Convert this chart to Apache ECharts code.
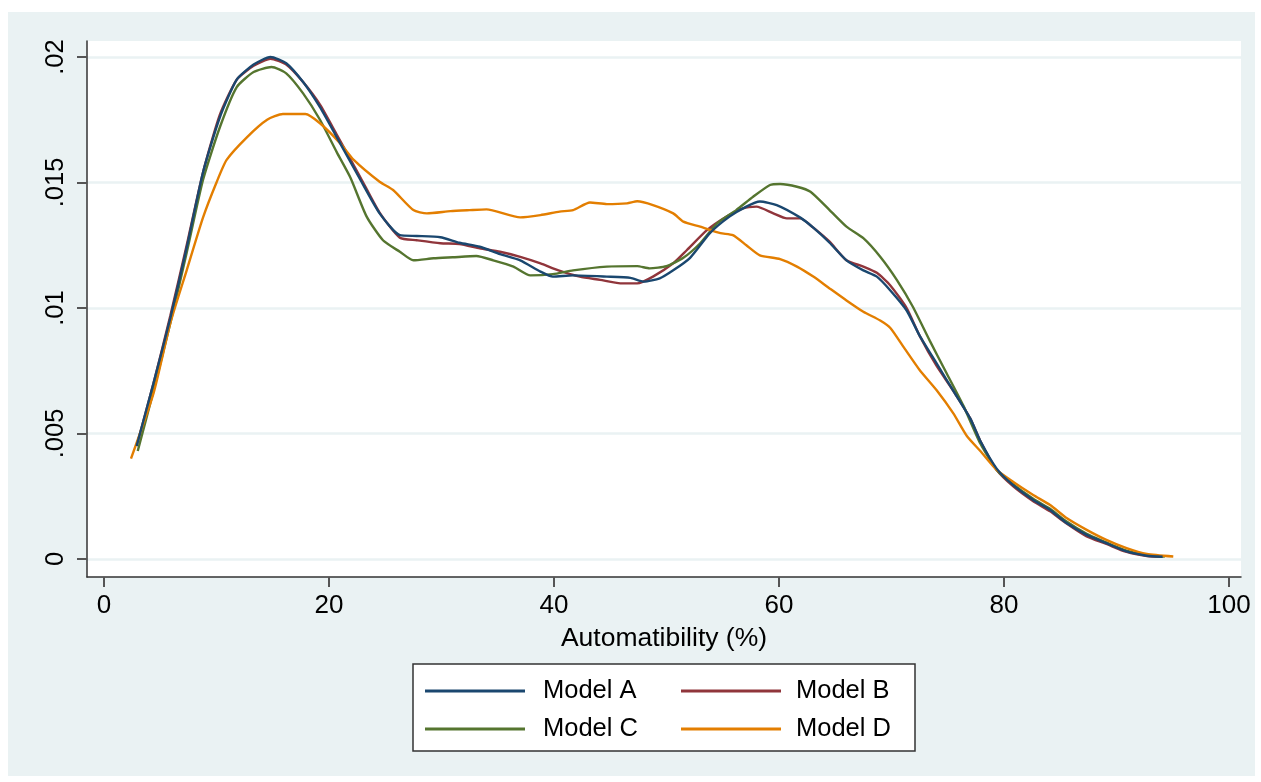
<!DOCTYPE html>
<html>
<head>
<meta charset="utf-8">
<script src="https://cdn.jsdelivr.net/npm/echarts@6/dist/echarts.min.js"></script>
<style>
html,body{margin:0;padding:0;background:#ffffff;}
#chart{width:1261px;height:782px;}
</style>
</head>
<body>
<div id="chart"></div>
<script>
// ---- data (x = automatibility %, y = density) ----
var seriesNames = ['Model A', 'Model B', 'Model C', 'Model D'];
var xTicks = [0, 20, 40, 60, 80, 100];
var yTicks = [0, 0.005, 0.01, 0.015, 0.02];
var yTickLabels = ['0', '.005', '.01', '.015', '.02'];

var modelA = [[2.9,.0045],[4.4,.0070],[5.9,.0096],[7.35,.0124],[8.8,.0154],[10.3,.0176],[11.8,.0191],[13.3,.0197],[14.8,.0200],[16.2,.01975],[17.7,.0190],[19.2,.0180],[20.7,.0168],[22.8,.0151],[24.5,.01377],[26.3,.0129],[27.8,.01287],[29.9,.01282],[31.6,.0126],[33.4,.01244],[35.2,.01215],[37.0,.0119],[38.8,.01145],[39.9,.01125],[41.7,.0113],[44.7,.01125],[46.8,.0112],[48.0,.01105],[49.4,.01118],[50.6,.0115],[52.1,.0120],[53.9,.0130],[55.6,.01364],[57.1,.01404],[58.3,.01424],[59.8,.0141],[61.9,.0136],[63.05,.0132],[64.5,.0126],[66.0,.0119],[67.5,.0115],[68.7,.01125],[69.9,.0107],[71.35,.0099],[72.5,.0089],[74.0,.0078],[75.5,.0067],[77.0,.0056],[77.9,.0047],[79.35,.0036],[80.8,.00295],[82.6,.00235],[84.1,.00195],[85.6,.00142],[87.35,.00096],[89.1,.00063],[90.9,.0003],[92.7,.00013],[94.1,.00009]];

var modelB = [[2.9,.0045],[4.4,.0070],[5.9,.0097],[7.35,.0125],[8.8,.0154],[10.3,.0177],[11.8,.0191],[13.3,.01965],[14.8,.01993],[16.2,.0197],[17.7,.0190],[19.2,.0181],[20.7,.0169],[22.8,.0152],[24.5,.0138],[26.3,.0128],[27.8,.0127],[29.9,.01258],[31.6,.01255],[33.4,.01238],[35.2,.01224],[37.0,.01204],[38.8,.01178],[40.4,.0115],[42.3,.01125],[44.1,.01112],[45.9,.01098],[47.4,.01098],[48.8,.01125],[50.6,.01178],[51.8,.0123],[53.6,.0131],[55.35,.01364],[56.8,.01397],[58.0,.01404],[59.5,.01377],[60.7,.01357],[61.9,.01357],[63.05,.0132],[64.5,.01264],[66.0,.0119],[67.5,.01165],[68.7,.0114],[69.9,.0109],[71.35,.0100],[72.5,.0089],[74.0,.0077],[75.5,.0067],[77.0,.0056],[77.9,.0047],[79.35,.00355],[80.8,.0029],[82.6,.0023],[84.1,.0019],[85.6,.0014],[87.35,.0009],[89.1,.0006],[90.9,.00028],[92.7,.00012],[94.1,.00009]];

var modelC = [[3.0,.0043],[4.4,.0067],[5.9,.0094],[7.35,.0122],[8.8,.0151],[10.3,.0172],[11.8,.0188],[13.3,.0194],[14.9,.0196],[16.2,.01935],[17.7,.01855],[19.2,.0175],[20.7,.0162],[21.9,.0152],[23.35,.01364],[24.8,.0127],[26.3,.01224],[27.5,.0119],[29.3,.01198],[31.0,.01202],[33.1,.01207],[34.6,.0119],[36.4,.01165],[37.9,.0113],[39.9,.01135],[41.7,.0115],[44.7,.01165],[47.4,.01167],[48.5,.01158],[50.0,.01167],[51.5,.0120],[53.0,.01258],[54.5,.01337],[56.2,.0139],[57.7,.01443],[59.2,.0149],[60.1,.01494],[61.6,.01483],[62.8,.01463],[64.5,.0139],[66.0,.01324],[67.5,.01278],[69.0,.01204],[70.5,.0111],[71.9,.01005],[73.4,.0087],[74.9,.0074],[76.4,.0061],[77.9,.0046],[79.35,.00355],[80.8,.00298],[82.6,.0024],[84.1,.0020],[85.6,.00148],[87.35,.0010],[89.1,.00066],[90.9,.00033],[92.7,.00015],[94.3,.0001]];

var modelD = [[2.4,.0040],[4.4,.0066],[5.9,.0094],[7.35,.0115],[8.8,.0136],[10.0,.0150],[10.9,.0159],[12.7,.0168],[14.5,.0175],[15.9,.01773],[17.9,.01773],[19.2,.01736],[21.0,.01656],[22.2,.0159],[24.5,.01503],[25.7,.0147],[27.5,.0139],[28.7,.01377],[30.8,.01386],[32.5,.0139],[34.0,.01393],[37.0,.01361],[38.8,.0137],[40.5,.01384],[41.7,.0139],[43.2,.0142],[44.7,.01414],[46.5,.01417],[47.4,.01425],[48.8,.0141],[50.6,.01377],[51.5,.01344],[53.0,.01324],[54.8,.01298],[55.9,.0129],[57.1,.0125],[58.3,.0121],[60.1,.01195],[61.6,.01165],[63.05,.01125],[64.5,.01078],[66.0,.0103],[67.5,.00985],[69.0,.0095],[69.9,.0092],[71.05,.00846],[72.5,.00753],[74.0,.00673],[75.5,.0058],[76.7,.0049],[77.9,.0043],[79.35,.00355],[80.8,.00308],[82.6,.00255],[84.1,.00215],[85.6,.00162],[87.35,.00116],[89.1,.00076],[90.9,.00043],[92.7,.0002],[95.05,.0001]];

var seriesData = [modelA, modelB, modelC, modelD];
var colors = ['#1a476f', '#90353b', '#55752f', '#e37e00'];

// ---- chart ----
var FONT = '"Liberation Sans", Arial, sans-serif';
var chart = echarts.init(document.getElementById('chart'), null, {renderer: 'canvas'});

var legendPos = [
  {left: 425, top: 678, pad: 13},
  {left: 681, top: 678, pad: 10},
  {left: 425, top: 716, pad: 13},
  {left: 681, top: 716, pad: 10}
];

var option = {
  backgroundColor: '#ffffff',
  animation: false,
  color: colors,
  graphic: [
    {type: 'rect', z: -10, silent: true, shape: {x: 8, y: 12, width: 1247, height: 764}, style: {fill: '#eaf2f3'}},
    {type: 'rect', z: -5, silent: true, shape: {x: 413, y: 664, width: 502, height: 87}, style: {fill: '#ffffff', stroke: '#333333', lineWidth: 1.5}}
  ],
  grid: {left: 87, top: 41, right: 20, bottom: 205, show: true, backgroundColor: '#ffffff', borderWidth: 0, z: 0},
  xAxis: {
    type: 'value',
    min: -1.51, max: 101.07,
    name: 'Automatibility (%)',
    nameLocation: 'middle',
    nameGap: 48,
    nameTextStyle: {fontFamily: FONT, fontSize: 26.5, color: '#000'},
    axisLine: {show: true, onZero: false, lineStyle: {color: '#333', width: 1.5}},
    axisTick: {show: true, length: 10, customValues: xTicks, lineStyle: {color: '#555', width: 2}},
    axisLabel: {customValues: xTicks, margin: 16, fontFamily: FONT, fontSize: 26, color: '#000'},
    splitLine: {show: false}
  },
  yAxis: {
    type: 'value',
    min: -0.000717, max: 0.020637,
    axisLine: {show: true, onZero: false, lineStyle: {color: '#333', width: 1.5}},
    axisTick: {show: true, length: 10, customValues: yTicks, lineStyle: {color: '#555', width: 2}},
    axisLabel: {
      customValues: yTicks, rotate: 90, margin: 18, fontFamily: FONT, fontSize: 25.5, color: '#000',
      formatter: function (v) {
        for (var i = 0; i < yTicks.length; i++) { if (Math.abs(yTicks[i] - v) < 1e-9) return yTickLabels[i]; }
        return '';
      }
    },
    splitLine: {show: true, lineStyle: {color: '#eaf2f3', width: 2.5}}
  },
  legend: seriesNames.map(function (n, i) {
    return {
      data: [n], left: legendPos[i].left, top: legendPos[i].top, padding: 0,
      icon: 'rect', itemWidth: 100, itemHeight: 3,
      textStyle: {fontFamily: FONT, fontSize: 25.5, color: '#000', padding: [0, 0, 0, legendPos[i].pad]},
      selectedMode: false
    };
  }),
  series: seriesData.map(function (d, i) {
    return {
      name: seriesNames[i], type: 'line', data: d, symbol: 'none', smooth: 0.2,
      lineStyle: {width: 2.4, color: colors[i]}, itemStyle: {color: colors[i]}, z: 2 + (i === 0 ? 1 : 0)
    };
  })
};
chart.setOption(option);
</script>
</body>
</html>
